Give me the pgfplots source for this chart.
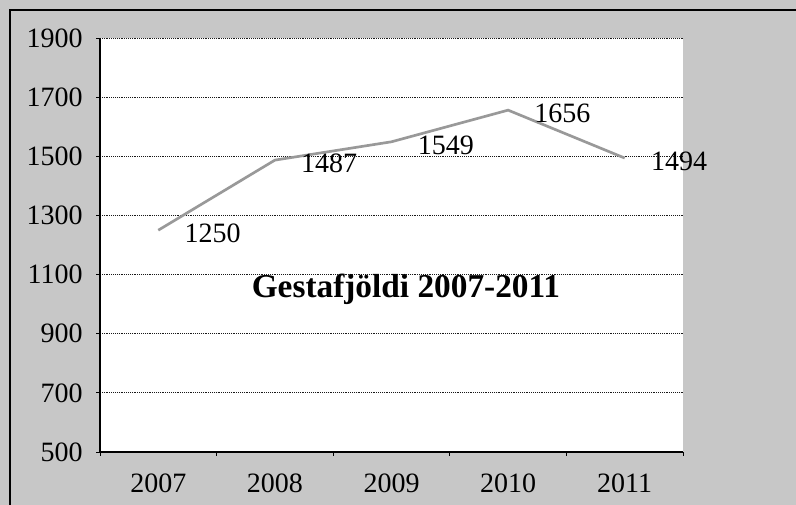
\documentclass[border=0pt]{standalone}
\usepackage{fontspec}
\setmainfont{Liberation Serif}
\usepackage{pgfplots}
\pgfplotsset{compat=1.18}
\begin{document}
\begin{tikzpicture}
\fill[black!22] (0,0) rectangle (597pt,378.75pt);
\draw[black, line width=0.8pt] (7.5pt,0) -- (7.5pt,371.25pt) -- (597pt,371.25pt);
\begin{axis}[
  at={(75pt,39.75pt)}, anchor=south west,
  scale only axis, width=437.25pt, height=310.5pt,
  xmin=-0.5, xmax=4.5, ymin=500, ymax=1900,
  axis x line*=bottom, axis y line*=left,
  axis line style={black, line width=0.8pt},
  axis background/.style={fill=white},
  ytick={500,700,...,1900},
  xtick={0,...,4}, xticklabels={2007,2008,2009,2010,2011},
  minor xtick={-0.5,0.5,...,4.5},
  major x tick style={draw=none},
  tick align=outside, major tick length=3pt, minor tick length=3pt,
  tick style={black, line width=0.6pt},
  ymajorgrids, grid style={densely dotted, black!90, line width=0.7pt},
  /pgf/number format/assume math mode=true,
  /pgf/number format/1000 sep={},
  tick label style={font=\fontsize{21}{25}\selectfont},
  yticklabel style={xshift=-6.5pt},
  xticklabel style={yshift=-10pt},
  clip=false,
]
\addplot[draw=black!40, line width=2pt,
  nodes near coords, point meta=explicit symbolic,
  every node near coord/.style={anchor=west, inner sep=0pt, xshift=18.75pt, yshift=-2.5pt, font=\fontsize{21}{25}\selectfont, text=black}]
  coordinates {(0,1250)[1250] (1,1487)[1487] (2,1549)[1549] (3,1656)[1656] (4,1494)[1494]};
\node[font=\bfseries\fontsize{25}{29}\selectfont, anchor=base] at (axis cs:2.124,1022) {Gestafjöldi 2007-2011};
\end{axis}
\pgfresetboundingbox
\useasboundingbox (0,0) rectangle (597pt,378.75pt);
\end{tikzpicture}
\end{document}
